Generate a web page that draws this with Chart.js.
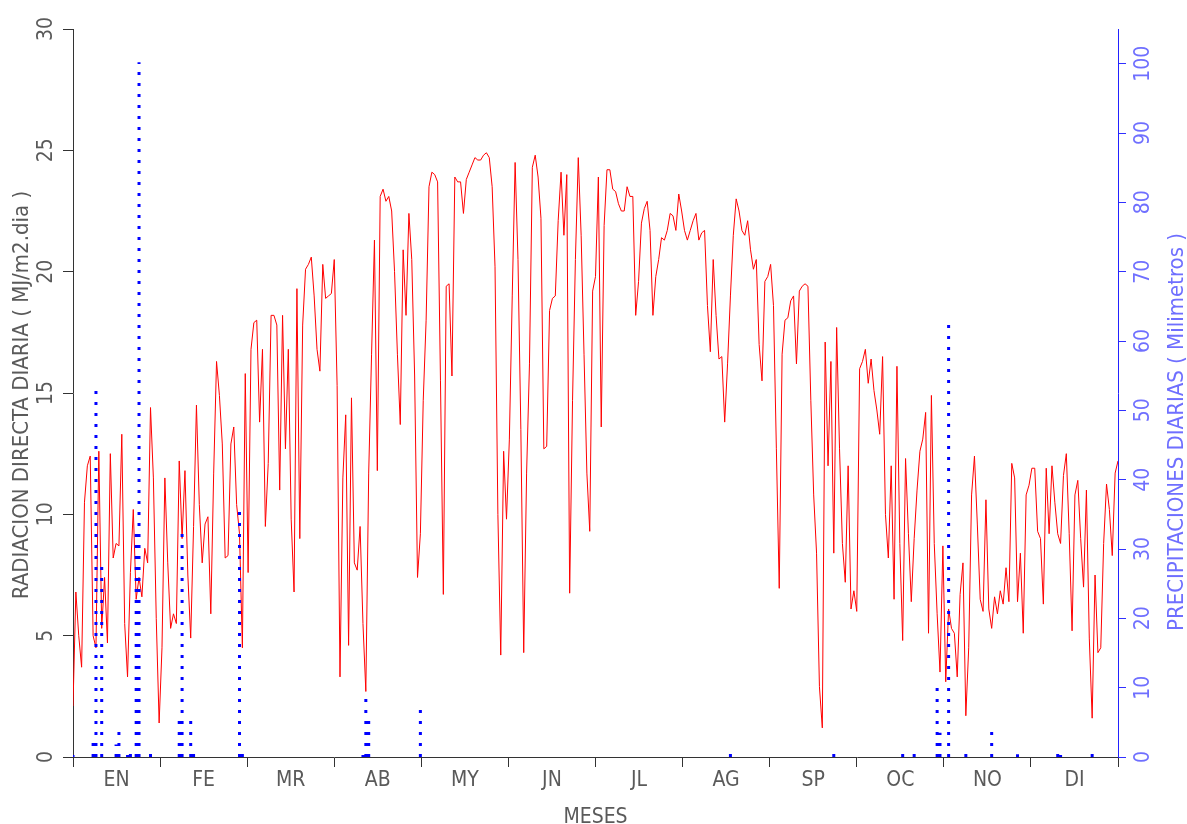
<!DOCTYPE html>
<html>
<head>
<meta charset="utf-8">
<script src="https://cdn.jsdelivr.net/npm/chart.js@4/dist/chart.umd.min.js"></script>
<style>
  body { margin: 0; background: #ffffff; }
  #wrap { width: 1187px; height: 824px; }
</style>
</head>
<body>
<div id="wrap"><canvas id="climaChart" width="1187" height="824"></canvas></div>
<script>
var meses = ["EN", "FE", "MR", "AB", "MY", "JN", "JL", "AG", "SP", "OC", "NO", "DI"];

// radiacion directa diaria, MJ/m2.dia, un valor por dia (365)
var radiacion = [
  2.1, 6.8, 5.0, 3.7, 10.5, 12.0, 12.4, 5.0, 4.5, 12.6,
  5.3, 7.4, 4.7, 12.5, 8.2, 8.8, 8.7, 13.3, 5.5, 3.3,
  7.6, 10.2, 6.5, 7.4, 6.6, 8.6, 8.0, 14.4, 11.5, 5.7,
  1.4, 4.5, 11.5, 8.0, 5.3, 5.9, 5.5, 12.2, 9.0, 11.8,
  7.5, 4.9, 9.5, 14.5, 10.4, 8.0, 9.6, 9.9, 5.9, 11.7,
  16.3, 14.9, 12.9, 8.2, 8.3, 12.9, 13.6, 10.4, 9.2, 4.5,
  15.8, 7.6, 16.8, 17.9, 18.0, 13.8, 16.8, 9.5, 12.1, 18.2,
  18.2, 17.8, 11.0, 18.2, 12.7, 16.8, 9.8, 6.8, 19.3, 9.0,
  17.8, 20.1, 20.3, 20.6, 19.0, 16.8, 15.9, 20.3, 18.9, 19.0,
  19.1, 20.5, 15.3, 3.3, 11.5, 14.1, 4.6, 14.8, 8.0, 7.7,
  9.5, 5.5, 2.7, 11.7, 16.6, 21.3, 11.8, 23.1, 23.4, 22.9,
  23.1, 22.5, 20.0, 16.6, 13.7, 20.9, 18.2, 22.4, 20.5, 15.7,
  7.4, 9.2, 14.7, 18.0, 23.5, 24.1, 24.0, 23.7, 15.5, 6.7,
  19.4, 19.5, 15.7, 23.9, 23.7, 23.7, 22.4, 23.8, 24.1, 24.4,
  24.7, 24.6, 24.6, 24.8, 24.9, 24.7, 23.5, 20.2, 10.0, 4.2,
  12.6, 9.8, 13.1, 19.0, 24.5, 20.5, 13.5, 4.3, 11.7, 16.2,
  24.3, 24.8, 23.9, 22.2, 12.7, 12.8, 18.4, 18.9, 19.0, 22.1,
  24.1, 21.5, 24.0, 6.75, 14.7, 20.5, 24.7, 21.5, 16.6, 11.7,
  9.3, 19.2, 19.8, 23.9, 13.6, 21.9, 24.2, 24.2, 23.4, 23.3,
  22.8, 22.5, 22.5, 23.5, 23.1, 23.1, 18.2, 19.6, 22.0, 22.6,
  22.9, 21.7, 18.2, 19.8, 20.5, 21.4, 21.3, 21.7, 22.4, 22.3,
  21.7, 23.2, 22.5, 21.7, 21.3, 21.7, 22.1, 22.4, 21.3, 21.6,
  21.7, 18.6, 16.7, 20.5, 18.2, 16.4, 16.5, 13.8, 16.2, 19.0,
  21.5, 23.0, 22.5, 21.7, 21.5, 22.1, 20.9, 20.1, 20.5, 17.0,
  15.5, 19.6, 19.8, 20.3, 18.6, 12.7, 6.95, 16.6, 18.0, 18.1,
  18.8, 19.0, 16.2, 19.2, 19.4, 19.5, 19.4, 14.7, 10.8, 8.4,
  2.9, 1.2, 17.1, 12.0, 16.3, 8.4, 17.7, 12.7, 8.8, 7.2,
  12.0, 6.1, 6.85, 6.0, 16.0, 16.3, 16.8, 15.4, 16.4, 15.1,
  14.3, 13.3, 16.5, 10.0, 8.2, 12.0, 6.5, 16.1, 8.8, 4.8,
  12.3, 9.2, 6.4, 9.0, 11.0, 12.6, 13.1, 14.2, 5.1, 14.9,
  8.8, 5.9, 3.5, 8.7, 3.1, 6.1, 5.3, 5.1, 3.3, 6.7,
  8.0, 1.7, 4.5, 10.8, 12.4, 9.6, 6.5, 6.0, 10.6, 6.1,
  5.3, 6.6, 5.9, 6.85, 6.3, 7.8, 6.4, 12.1, 11.5, 6.4,
  8.4, 5.1, 10.8, 11.2, 11.9, 11.9, 9.3, 9.0, 6.3, 11.9,
  9.2, 12.0, 10.5, 9.2, 8.8, 11.6, 12.5, 9.2, 5.2, 10.8,
  11.4, 9.0, 7.0, 11.0, 4.9, 1.6, 7.5, 4.3, 4.5, 8.8,
  11.25, 10.2, 8.3, 11.7, 12.2
];

// dias con lluvia (dia del ano, 0 = 1 de enero) y milimetros caidos
var diasLluvia = [0, 7, 8, 10, 15, 16, 19, 20, 22, 23, 27, 37, 38, 41, 42, 58, 59,
  101, 102, 103, 121, 229, 265, 289, 293, 301, 302, 305, 311, 320, 329, 343, 344, 355];
var lluvia = [0.3, 2.3, 53.8, 27.5, 1.8, 4.4, 0.3, 1.4, 33.0, 100.2, 0.5, 6.2, 32.3, 5.2, 0.8, 35.7, 1.1,
  0.3, 9.3, 6.2, 7.6, 0.6, 1.1, 0.8, 0.5, 10.0, 3.5, 62.4, 0.5, 3.8, 0.4, 0.9, 0.3, 0.5];

var tituloRadiacion = "RADIACION DIRECTA DIARIA ( MJ/m2.dia )";
var tituloLluvia = "PRECIPITACIONES DIARIAS ( Milimetros )";
var tituloMeses = "MESES";

var fuente = "'Liberation Sans Narrow', 'DejaVu Sans Condensed', sans-serif";
var gris = '#5a5a5a';
var azulTexto = '#6f6fff';

function diaAMes(dia) {
  return dia * 12 / (radiacion.length - 1);
}

function puntosRadiacion() {
  var puntos = [];
  radiacion.forEach(function(valor, dia) {
    puntos.push({ x: diaAMes(dia), y: valor });
  });
  return puntos;
}

// cada dia de lluvia es un trazo vertical desde 0, separado del siguiente por un hueco
function barrasLluvia() {
  var puntos = [];
  diasLluvia.forEach(function(dia, i) {
    var x = diaAMes(dia);
    puntos.push({ x: x, y: 0 });
    puntos.push({ x: x, y: lluvia[i] });
    puntos.push({ x: x, y: null });
  });
  return puntos;
}

var titulosEjes = {
  id: 'titulosEjes',
  afterDraw: function(chart) {
    var ctx = chart.ctx;
    var area = chart.chartArea;
    var medio = (area.top + area.bottom) / 2;
    ctx.save();
    ctx.font = '22px ' + fuente;
    ctx.textAlign = 'center';
    ctx.textBaseline = 'middle';

    ctx.save();
    ctx.translate(chart.scales.y.left + 22, medio + 2);
    ctx.rotate(-Math.PI / 2);
    ctx.fillStyle = gris;
    ctx.fillText(tituloRadiacion, 0, 0);
    ctx.restore();

    ctx.save();
    ctx.translate(chart.scales.y2.right - 10, medio + 39);
    ctx.rotate(-Math.PI / 2);
    ctx.fillStyle = azulTexto;
    ctx.fillText(tituloLluvia, 0, 0);
    ctx.restore();

    ctx.restore();
  }
};

function createClimaChart() {
  var container = document.getElementById("climaChart").getContext('2d');
  var climaChart = new Chart(container, {
    type: 'line',
    data: {
      datasets: [{
          label: "lluvia",
          data: barrasLluvia(),
          yAxisID: 'y2',
          borderColor: '#0000ff',
          borderWidth: 3,
          borderDash: [3, 8],
          borderCapStyle: 'butt',
          pointRadius: 0,
          spanGaps: false,
          tension: 0
        },
        {
          label: "radiacion",
          data: puntosRadiacion(),
          yAxisID: 'y',
          borderColor: '#ff0000',
          borderWidth: 1,
          pointRadius: 0,
          tension: 0
        }
      ]
    },
    options: {
      responsive: false,
      animation: false,
      devicePixelRatio: 1,
      layout: {
        padding: { top: 29, left: 0, right: 0, bottom: 0 }
      },
      plugins: {
        legend: { display: false },
        tooltip: { enabled: false }
      },
      scales: {
        x: {
          type: 'linear',
          position: 'bottom',
          min: 0,
          max: 12,
          afterFit: function(scale) { scale.height = 67; },
          ticks: {
            stepSize: 0.5,
            autoSkip: false,
            maxRotation: 0,
            padding: 1,
            color: gris,
            font: { family: fuente, size: 21 },
            callback: function(value) {
              return value % 1 ? meses[Math.floor(value)] : '';
            }
          },
          grid: {
            drawOnChartArea: false,
            tickLength: 10,
            color: function(ctx) {
              return ctx.tick && ctx.tick.value % 1 === 0 ? '#333333' : 'rgba(0,0,0,0)';
            }
          },
          border: { color: '#333333' },
          title: {
            display: true,
            text: tituloMeses,
            color: gris,
            font: { family: fuente, size: 21, lineHeight: 0.6 },
            padding: { top: 0, bottom: 0 }
          }
        },
        y: {
          position: 'left',
          min: 0,
          max: 30,
          afterFit: function(scale) { scale.width = 73; },
          ticks: {
            stepSize: 5,
            minRotation: 90,
            maxRotation: 90,
            crossAlign: 'center',
            padding: 4,
            color: gris,
            font: { family: fuente, size: 21 }
          },
          grid: { drawOnChartArea: false, tickLength: 10, color: '#333333' },
          border: { color: '#333333' }
        },
        y2: {
          position: 'right',
          min: 0,
          max: 105,
          afterFit: function(scale) { scale.width = 69; },
          ticks: {
            stepSize: 10,
            includeBounds: false,
            minRotation: 90,
            maxRotation: 90,
            crossAlign: 'center',
            padding: 0,
            color: azulTexto,
            font: { family: fuente, size: 21 }
          },
          grid: { drawOnChartArea: false, tickLength: 8, color: '#3030ff' },
          border: { color: '#2222ff' }
        }
      }
    },
    plugins: [titulosEjes]
  });
}

createClimaChart();
</script>
</body>
</html>
